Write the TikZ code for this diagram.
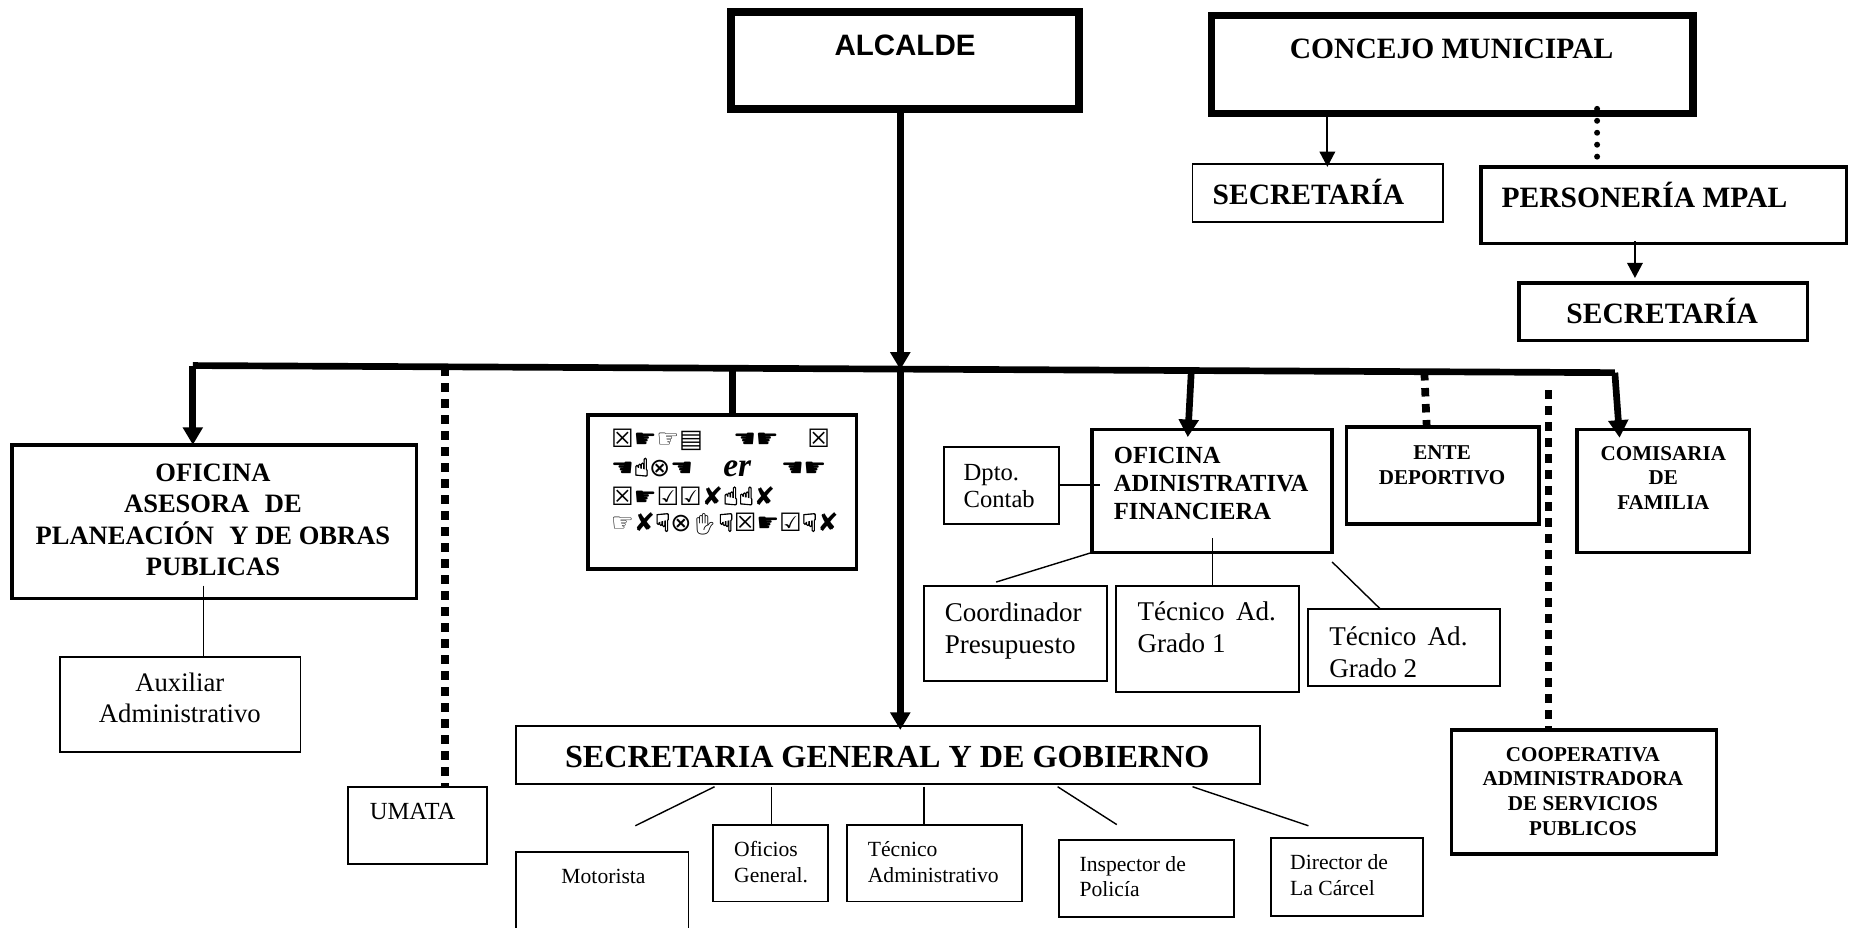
\documentclass[tikz,border=0pt]{standalone}
\usepackage{fontspec}
\usepackage{tikz}
\usetikzlibrary{arrows.meta,fit}
\setmainfont{Liberation Serif}
\newfontfamily\arialfont{Liberation Sans}
\newfontfamily\dingfont{DejaVu Sans}
\newfontfamily\dingbold[FakeBold=2.5]{DejaVu Sans}
\newfontfamily\emojifont{Noto Emoji}
\newcommand{\up}{{\dingbold ☝}}
\newcommand{\down}{{\dingbold ☟}}

\tikzset{
  thin box/.style={draw, line width=0.55pt, inner sep=0pt, outer sep=0pt},
  mid box/.style={draw, line width=1pt, inner sep=0pt, outer sep=0pt},
  heavy box/.style={draw, line width=2.1pt, inner sep=0pt, outer sep=0pt},
  thin link/.style={line width=0.4pt},
  mid link/.style={line width=0.55pt, -{Triangle[length=4.3pt,width=4.4pt]}},
  heavy link/.style={line width=1.9pt, -{Triangle[length=5pt,width=5.5pt]}},
  heavy line/.style={line width=1.9pt},
  dot line/.style={line width=2.2pt, dash pattern=on 2.4pt off 2.15pt},
  round dots/.style={line width=1.7pt, line cap=round, dash pattern=on 0pt off 3.4pt},
  arial head/.style={font=\arialfont\bfseries\fontsize{8.4}{10}\selectfont},
  big head/.style={font=\bfseries\fontsize{9.15}{11}\selectfont},
  head/.style={font=\bfseries\fontsize{8.4}{10}\selectfont},
  mid head/.style={font=\bfseries\fontsize{7.55}{8.95}\selectfont, align=center},
  left head/.style={font=\bfseries\fontsize{7}{7.95}\selectfont, align=left, inner sep=0pt},
  small head/.style={font=\bfseries\fontsize{6}{7.05}\selectfont, align=center},
  plain/.style={font=\fontsize{7.7}{9.1}\selectfont, align=left, inner sep=0pt},
  plain mid/.style={font=\fontsize{7.6}{9}\selectfont, align=center},
  small/.style={font=\fontsize{7}{7.5}\selectfont, align=left, inner sep=0pt},
  tiny/.style={font=\fontsize{6.15}{7.35}\selectfont, align=left, inner sep=0pt},
  ding/.style={font=\dingfont\fontsize{7.2}{8}\selectfont, inner sep=0pt}
}

\begin{document}
\begin{tikzpicture}[x=0.118304mm, y=-0.118304mm]

      \useasboundingbox (0,0) rectangle (1568,783.6);

      % boxes by corners
      \foreach \n/\xa/\ya/\xb/\yb in {alcalde/618/10/912/92, concejo/1024/13/1431/96}
      \node [heavy box, fit={(\xa,\ya) (\xb,\yb)}] (\n) {};

      \foreach \n/\xa/\ya/\xb/\yb in {personeria/1252/141/1561/206, secretaria-b/1284/239/1528/288,
        asesora/10/376/352/506, simbolos/497/351/724/481, financiera/923/363/1126/467,
        ente/1138/361/1301/443, comisaria/1333/363/1479/467, cooperativa/1227/617/1451/722}
      \node [mid box, fit={(\xa,\ya) (\xb,\yb)}] (\n) {};

      \foreach \n/\xa/\ya/\xb/\yb in {secretaria-a/1008/139/1220/188, auxiliar/51/555/254/636,
        umata/294/665/412/730, contab/798/378/895/443, coordinador/781/495/936/576,
        tecnico-a/943/495/1098/585, tecnico-b/1106/515/1268/580, general/436/614/1065/663,
        motorista/436/720/582/790, oficios/603/697/700/762, administrativo/716/697/864/762,
        inspector/895/710/1043/775, director/1074/708/1203/774}
      \node [thin box, fit={(\xa,\ya) (\xb,\yb)}] (\n) {};

      % box texts
      \node [arial head] (alcalde-text) at (765,38) {ALCALDE};
      \node [big head] (general-text) at (750,640) {SECRETARIA GENERAL Y DE GOBIERNO};

      \foreach \n/\x/\y/\t in {concejo/1227/41/CONCEJO MUNICIPAL, secretaria-a/1106/162/SECRETARÍA,
        personeria/1390/165/PERSONERÍA MPAL, secretaria-b/1405/263/SECRETARÍA}
      \node [head] (\n-text) at (\x,\y) {\t};

      \node [mid head] (asesora-text) at (180,439.5)
      {OFICINA \\ ASESORA\,\, DE \\ PLANEACIÓN\,\, Y DE OBRAS \\ PUBLICAS};
      \node [left head, anchor=west] (financiera-text) at (941,408.5)
      {OFICINA \\ ADINISTRATIVA \\ FINANCIERA};

      \foreach \n/\x/\y/\t in {ente/1219/393/{ENTE \\ DEPORTIVO}, comisaria/1406/404/{COMISARIA \\ DE \\ FAMILIA},
        cooperativa/1338/669/{COOPERATIVA \\ ADMINISTRADORA \\ DE SERVICIOS \\ PUBLICOS}}
      \node [small head] (\n-text) at (\x,\y) {\t};

      \node [plain mid] (auxiliar-text) at (152,590) {Auxiliar \\ Administrativo};

      \foreach \n/\x/\y/\t in {coordinador/798/533/{Coordinador \\ Presupuesto},
        tecnico-a/961/530/{Técnico\, Ad. \\ Grado 1}, tecnico-b/1123/551/{Técnico\, Ad. \\ Grado 2}}
      \node [plain, anchor=west] (\n-text) at (\x,\y) {\t};

      \foreach \n/\x/\y/\t in {umata/312/686/UMATA, contab/814/411/{Dpto. \\ Contab}}
      \node [small, anchor=west] (\n-text) at (\x,\y) {\t};

      \foreach \n/\x/\y/\t in {motorista/474/741/Motorista, oficios/620/729/{Oficios \\ General.},
        administrativo/733/729/{Técnico \\ Administrativo}, inspector/912/741/{Inspector de \\ Policía},
        director/1090/740/{Director de \\ La Cárcel}}
      \node [tiny, anchor=west] (\n-text) at (\x,\y) {\t};

      % the box of symbols, one row at a time
      \node [ding, anchor=west] (fila-1) at (516,372) {☒☛☞▤\hspace{8.6pt}☚☛\hspace{8.2pt}☒};
      \node [ding, anchor=west] (fila-2) at (516,395) {☚\up⊗☚\hspace{8.6pt}{\fontspec{Liberation Serif}\bfseries\itshape\fontsize{9.5}{10}\selectfont er}\hspace{8.5pt}☚☛};
      \node [ding, anchor=west] (fila-3) at (516,419) {☒☛☑☑✘\up\up✘};
      \node [ding, anchor=west] (fila-4) at (516,443) {☞✘\down⊗{\emojifont\fontsize{6}{8}\selectfont ✋}\down☒☛☑\down✘};

      % free ends of the connectors
      \foreach \n/\x/\y in {bar-a/163/309, bar-b/376/310.5, bar-c/619/312, bar-d/761/312.5, bar-e/1007/313.5,
        bar-f/1204/314.5, bar-g/1365/315, dot-top/1309/330, dot-con/1350/92,
        gen-tip/761/617, fin-tip/1004/369.5, ente-tip/1206/361, com-tip/1369/370,
        sec-a/1122/96, sec-a-tip/1122/141, sec-b/1382/204, sec-b-tip/1382/235,
        aux-top/172/495, fin-top/1025/455, fin-left/842/492, fin-right/1126/475, fin-end/1167/515,
        con-end/930/410, gen-a/604/665, gen-b/537/698, gen-c/652/665, gen-d/781/665,
        gen-e/894/665, gen-f/944/697, gen-g/1008/665, gen-h/1106/698}
      \coordinate (\n) at (\x,\y);

      % trunk and bar
      \draw [heavy link] (alcalde.south -| bar-d) -- (bar-d);
      \draw [heavy link] (bar-d) -- (gen-tip);
      \draw [heavy line] (bar-a) -- (bar-g);

      \draw [heavy link] (bar-a) -- (asesora.north -| bar-a);
      \draw [heavy line] (bar-c) -- (simbolos.north -| bar-c);
      \draw [heavy link] (bar-e) -- (fin-tip);
      \draw [heavy link] (bar-g) -- (com-tip);

      \draw [dot line] (bar-b) -- (umata.north -| bar-b);
      \draw [dot line] (bar-f) -- (ente-tip);
      \draw [dot line] (dot-top) -- (cooperativa.north -| dot-top);

      % upper right
      \draw [mid link] (sec-a) -- (sec-a-tip);
      \draw [round dots] (dot-con) -- (personeria.north -| dot-con);
      \draw [mid link] (sec-b) -- (sec-b-tip);

      % thin lines
      \draw [thin link] (aux-top) -- (auxiliar.north -| aux-top);
      \draw [thin link] (contab.east |- con-end) -- (con-end);
      \draw [thin link] (fin-top) -- (coordinador.north -| fin-top);
      \draw [thin link] (financiera.south west) -- (fin-left);
      \draw [thin link] (fin-right) -- (fin-end);
      \draw [thin link] (gen-a) -- (gen-b);
      \draw [thin link] (gen-c) -- (oficios.north -| gen-c);
      \draw [thin link] (gen-d) -- (administrativo.north -| gen-d);
      \draw [thin link] (gen-e) -- (gen-f);
      \draw [thin link] (gen-g) -- (gen-h);

    \end{tikzpicture}
\end{document}
